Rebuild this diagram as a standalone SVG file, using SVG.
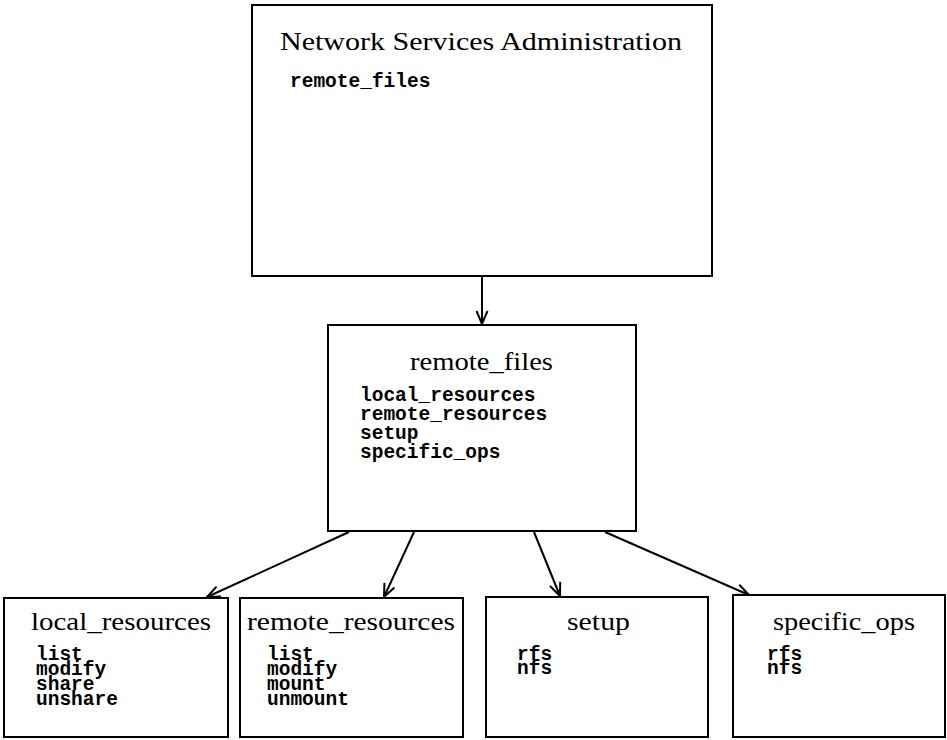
<svg xmlns="http://www.w3.org/2000/svg" width="947" height="740" viewBox="0 0 947 740">
<defs>
<style>
.box{fill:#fff;stroke:#000;stroke-width:2}
.title{font-family:"Liberation Serif","Times New Roman",serif;font-size:26px;fill:#000}
.mono{font-family:"Liberation Mono","Courier New",monospace;font-size:19.5px;font-weight:bold;fill:#000}
.conn{stroke:#000;stroke-width:2;fill:none}
</style>
<marker id="arr" markerUnits="userSpaceOnUse" markerWidth="16" markerHeight="14" viewBox="-14 -7 16 14" refX="0" refY="0" orient="auto">
<path d="M-13,-5.5 L0,0 L-13,5.5" fill="none" stroke="#000" stroke-width="2"/>
</marker>
</defs>
<rect width="947" height="740" fill="#fff"/>
<g id="connectors">
<line class="conn" x1="482" y1="276" x2="482" y2="324" marker-end="url(#arr)"/>
<line class="conn" x1="349" y1="532" x2="207" y2="597" marker-end="url(#arr)"/>
<line class="conn" x1="414" y1="532" x2="384" y2="597" marker-end="url(#arr)"/>
<line class="conn" x1="534" y1="532" x2="560" y2="596" marker-end="url(#arr)"/>
<line class="conn" x1="605" y1="532" x2="749" y2="595" marker-end="url(#arr)"/>
</g>
<g id="nsa">
<rect class="box" x="252" y="5" width="460" height="271"/>
<text class="title" x="280" y="50" textLength="402" lengthAdjust="spacingAndGlyphs">Network Services Administration</text>
<text class="mono" x="290" y="87">remote_files</text>
</g>
<g id="remote_files">
<rect class="box" x="328" y="325" width="308" height="206"/>
<text class="title" x="410" y="370" textLength="143" lengthAdjust="spacingAndGlyphs">remote_files</text>
<text class="mono" x="360" y="401">local_resources</text>
<text class="mono" x="360" y="420">remote_resources</text>
<text class="mono" x="360" y="439">setup</text>
<text class="mono" x="360" y="458">specific_ops</text>
</g>
<g id="local_resources">
<rect class="box" x="4" y="598" width="224" height="139"/>
<text class="title" x="31" y="630" textLength="180" lengthAdjust="spacingAndGlyphs">local_resources</text>
<text class="mono" x="36" y="660">list</text>
<text class="mono" x="36" y="675">modify</text>
<text class="mono" x="36" y="690">share</text>
<text class="mono" x="36" y="705">unshare</text>
</g>
<g id="remote_resources">
<rect class="box" x="240" y="598" width="223" height="139"/>
<text class="title" x="247" y="630" textLength="208" lengthAdjust="spacingAndGlyphs">remote_resources</text>
<text class="mono" x="267" y="660">list</text>
<text class="mono" x="267" y="675">modify</text>
<text class="mono" x="267" y="690">mount</text>
<text class="mono" x="267" y="705">unmount</text>
</g>
<g id="setup">
<rect class="box" x="486" y="597" width="222" height="140"/>
<text class="title" x="567" y="630" textLength="63" lengthAdjust="spacingAndGlyphs">setup</text>
<text class="mono" x="517" y="660">rfs</text>
<text class="mono" x="517" y="674">nfs</text>
</g>
<g id="specific_ops">
<rect class="box" x="733" y="595" width="212" height="142"/>
<text class="title" x="773" y="630" textLength="142" lengthAdjust="spacingAndGlyphs">specific_ops</text>
<text class="mono" x="767" y="660">rfs</text>
<text class="mono" x="767" y="674">nfs</text>
</g>
</svg>
